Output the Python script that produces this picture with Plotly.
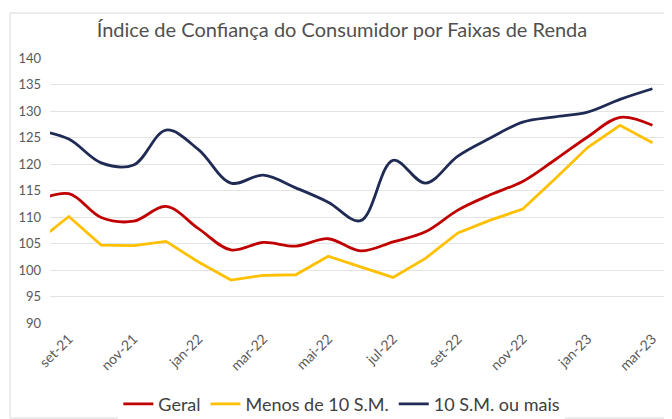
import plotly.graph_objects as go

months = ["ago-21", "set-21", "out-21", "nov-21", "dez-21", "jan-22", "fev-22", "mar-22",
          "abr-22", "mai-22", "jun-22", "jul-22", "ago-22", "set-22", "out-22", "nov-22",
          "dez-22", "jan-23", "fev-23", "mar-23"]

geral = [113.0, 114.4, 109.9, 109.2, 112.0, 107.8, 103.8, 105.2, 104.5, 105.9, 103.6,
         105.3, 107.2, 111.3, 114.2, 116.7, 120.8, 125.1, 128.8, 127.3]
menos_10 = [105.2, 110.1, 104.7, 104.6, 105.4, 101.5, 98.1, 99.0, 99.1, 102.6, 100.6,
            98.6, 102.2, 107.0, 109.4, 111.5, 117.2, 123.1, 127.3, 124.0]
mais_10 = [126.4, 124.7, 120.2, 119.8, 126.4, 122.7, 116.4, 117.9, 115.5, 112.8, 109.3,
           120.7, 116.4, 121.5, 124.9, 127.9, 128.9, 129.8, 132.2, 134.2]

tick_labels = ["set-21", "nov-21", "jan-22", "mar-22", "mai-22", "jul-22",
               "set-22", "nov-22", "jan-23", "mar-23"]

FONT = "Lato"
GRAY = "#595959"

fig = go.Figure()
fig.add_trace(go.Scatter(x=months, y=geral, name="Geral", mode="lines",
                         line=dict(color="#C00000", width=2.8, shape="spline", smoothing=1.0)))
fig.add_trace(go.Scatter(x=months, y=menos_10, name="Menos de 10 S.M.", mode="lines",
                         line=dict(color="#FFC000", width=2.8)))
fig.add_trace(go.Scatter(x=months, y=mais_10, name="10 S.M. ou mais", mode="lines",
                         line=dict(color="#1F2A55", width=2.8, shape="spline", smoothing=1.0)))

# the page body adds an 8px margin, so the figure is sized to the visible area
W, H = 664, 411
L, R, T, B = 42, 5, 50, 96
PW, PH = W - L - R, H - T - B

fig.update_layout(
    width=W, height=H,
    margin=dict(l=L, r=R, t=T, b=B, autoexpand=False),
    paper_bgcolor="white", plot_bgcolor="white",
    font=dict(family=FONT, color=GRAY),
    title=dict(text="Índice de Confiança do Consumidor por Faixas de Renda",
               x=0.503, xanchor="center", y=0.946, yanchor="middle",
               font=dict(family=FONT, size=20, color="#505050")),
    showlegend=True,
    legend=dict(orientation="h", x=0.473, xanchor="center",
                yref="container", y=0.036, yanchor="middle",
                font=dict(family=FONT, size=18, color="#404040"),
                itemwidth=30, tracegroupgap=0),
    xaxis=dict(type="category", range=[0.42, 19.45], tickmode="array",
               tickvals=tick_labels, ticktext=tick_labels, tickangle=-45,
               showgrid=False, zeroline=False, showline=False, ticks="",
               automargin=False, ticklabelstandoff=4,
               tickfont=dict(family=FONT, size=14, color=GRAY)),
    yaxis=dict(range=[90, 140], dtick=5, tick0=90, showgrid=True,
               gridcolor="#E3E3E3", gridwidth=1, zeroline=False, showline=False,
               automargin=False, ticklabelstandoff=8,
               ticks="", tickfont=dict(family=FONT, size=13, color=GRAY)),
)

fig.add_shape(type="rect", xref="paper", yref="paper",
              x0=(2 - L) / PW, x1=(W - 2 - L) / PW,
              y0=-(H - 1 - (T + PH)) / PH, y1=1 + (T - 5) / PH,
              line=dict(color="#D9D9D9", width=1), fillcolor="rgba(0,0,0,0)")

fig.write_html("out.html")
